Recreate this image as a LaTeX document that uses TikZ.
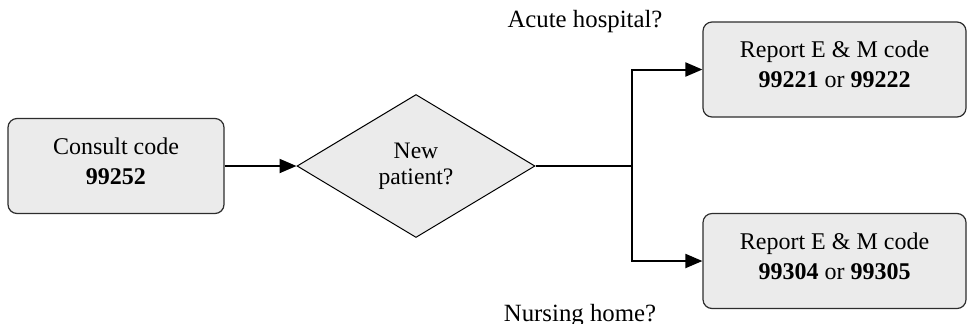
\documentclass[tikz,border=0pt]{standalone}
\usepackage{fontspec}
\setmainfont{Liberation Serif}
\usetikzlibrary{shapes.geometric,arrows.meta}

\definecolor{boxgray}{RGB}{235,235,235}
\definecolor{edgegray}{RGB}{45,45,45}

\tikzset{
    codebox/.style={draw=edgegray, fill=boxgray, line width=0.6pt, rounded corners=4.5pt,
        minimum height=47.5pt, inner sep=0pt, text depth=5pt, align=center,
        font=\fontsize{12}{15}\selectfont},
    query/.style={diamond, draw=black, fill=boxgray, line width=0.5pt, aspect=1.66,
        minimum width=119pt, minimum height=71.5pt, inner sep=0pt, align=center,
        font=\fontsize{11.8}{13}\selectfont},
    where/.style={anchor=base, inner sep=0pt, font=\fontsize{12.4}{14}\selectfont}
}

\begin{document}
\begin{tikzpicture}[x=0.5pt,y=-0.5pt,>={Triangle[length=8.5pt,width=7pt]},line width=1pt]

                \useasboundingbox (0,0) rectangle (968,323);

                \node[codebox, minimum width=108pt] (consult) at(116,166) {Consult code\\\textbf{99252}};
                \node[query] (newpat) at(416,166) {New\\patient?};
                \node[codebox, minimum width=131.5pt] (acute) at(834.5,69.5) {Report E \& M code\\\textbf{99221} or \textbf{99222}};
                \node[codebox, minimum width=131.5pt] (nursing) at(834.5,261) {Report E \& M code\\\textbf{99304} or \textbf{99305}};

                \coordinate (split) at(632,166);

                \node[where] (acutelbl) at(585,27) {Acute hospital?};
                \node[where] (nursinglbl) at(580,321) {Nursing home?};

                \draw[->] (consult.east) -- (newpat.west);
                \draw (newpat.east) -- (split);
                \draw[->] (split) |- (acute.west);
                \draw[->] (split) |- (nursing.west);

            \end{tikzpicture}
\end{document}
